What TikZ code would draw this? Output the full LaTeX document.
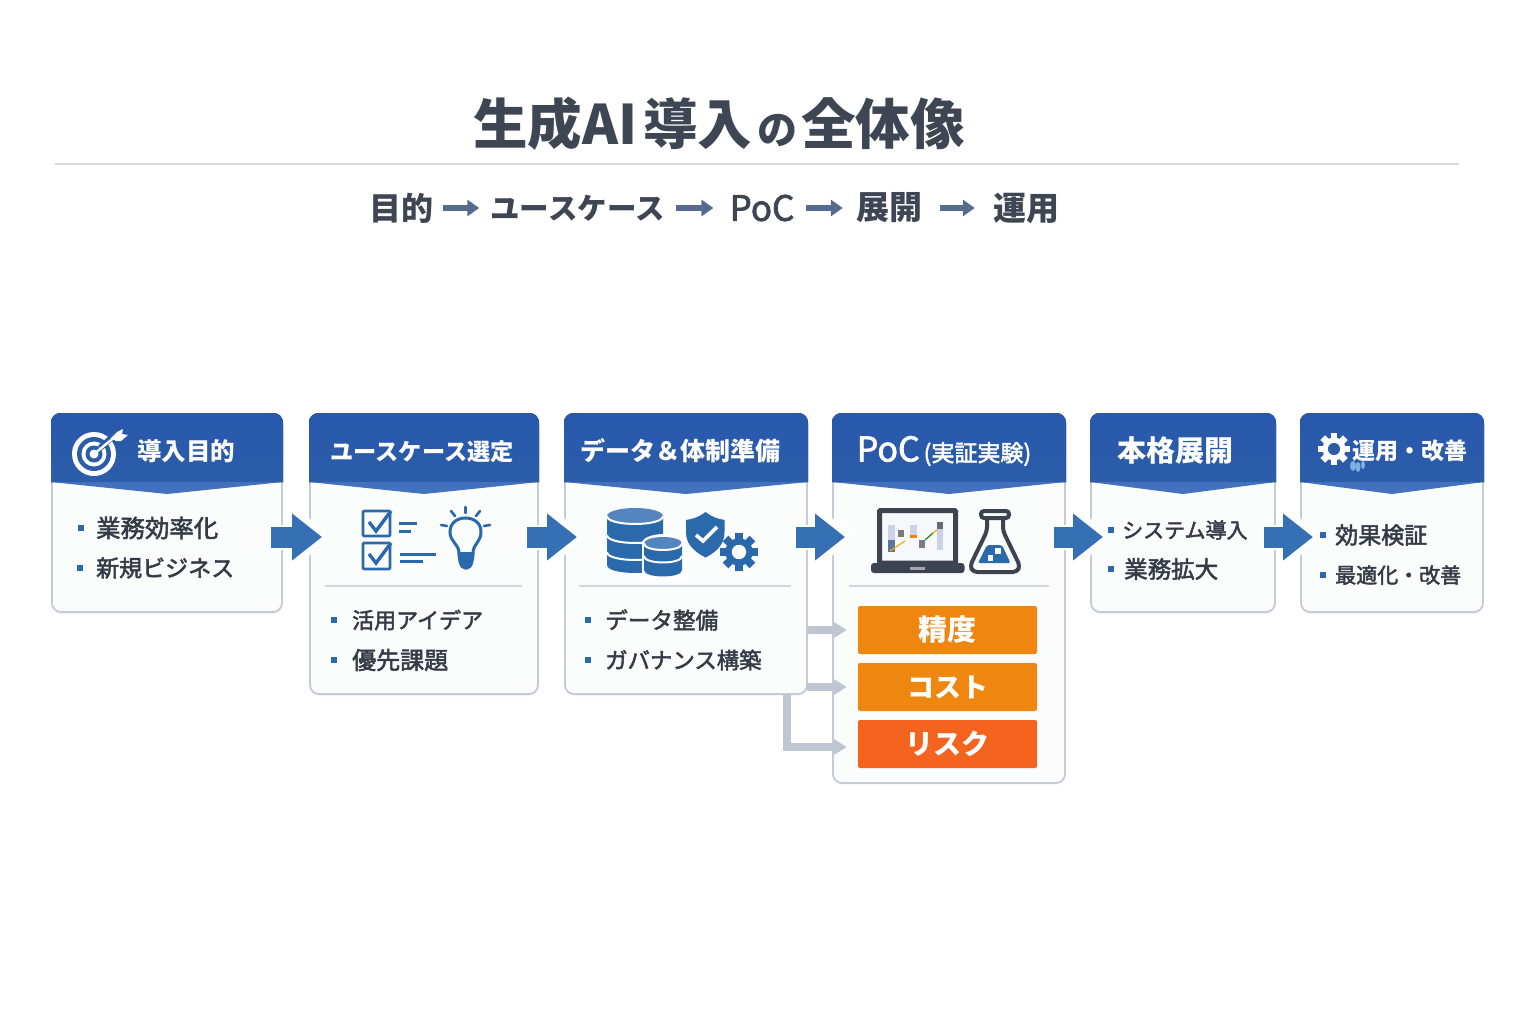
\documentclass[tikz,border=0pt]{standalone}
\usepackage{fontspec}
\setmainfont{Noto Sans CJK JP}
\newfontfamily\jpmed[FakeBold=2.2]{Noto Sans CJK JP}
\usepackage{tikz}
\usetikzlibrary{arrows.meta}
\usetikzlibrary{shadows}

\definecolor{inkdark}{HTML}{3F4653}
\definecolor{inkbody}{HTML}{353B46}
\definecolor{headblue}{HTML}{2B5DA8}
\definecolor{headlight}{HTML}{4272BD}
\definecolor{flowblue}{HTML}{3670B4}
\definecolor{iconblue}{HTML}{2A69AC}
\definecolor{cardedge}{HTML}{C5CBD6}
\definecolor{cardfill}{HTML}{FBFCFC}
\definecolor{feedgrey}{HTML}{BFC6D2}
\definecolor{laptopdark}{HTML}{3D4350}
\definecolor{subblue}{HTML}{566B8F}
\definecolor{metricorange}{HTML}{EF860F}
\definecolor{metricred}{HTML}{F5641F}
\definecolor{screenpale}{HTML}{F7F8FB}
\definecolor{barpale}{HTML}{C9D3E5}
\definecolor{barmid}{HTML}{5A7796}
\definecolor{petal}{HTML}{7FAEE0}

\newcommand{\fs}[1]{\fontsize{#1}{#1}\selectfont}

\tikzset{
  cardbody/.style = {draw = cardedge, line width = 1.8pt, fill = cardfill, rounded corners = 9pt, inner sep = 0, outer sep = 0, drop shadow = {opacity = .08, shadow xshift = 0pt, shadow yshift = -2pt}},
  headfill/.style = {top color = headblue!95!blue, bottom color = headblue},
  headtip/.style = {fill = headlight},
  headtext/.style = {text = white, inner sep = 0},
  itemdot/.style = {fill = iconblue, minimum size = 5.5pt, inner sep = 0, outer sep = 0},
  itemtext/.style = {text = inkbody, anchor = west, inner sep = 0},
  rule/.style = {draw = cardedge!80, line width = 1.1pt},
  metric/.style = {text = white, font = \bfseries, minimum width = 179pt, minimum height = 48pt, rounded corners = 2pt, inner sep = 0},
  subtext/.style = {text = inkdark, font = \bfseries\fs{32}, inner sep = 0},
  subarrow/.style = {draw = subblue, line width = 5.5pt, -{Triangle[length = 12pt, width = 16pt]}},
  blockarrow/.style = {draw = flowblue, line width = 21pt, -{Triangle[length = 30pt, width = 45pt]}, shorten <= -11pt, shorten >= -12pt},
  blockhalo/.style = {draw = white, line width = 25pt, -{Triangle[length = 32pt, width = 62pt]}, shorten <= -11pt, shorten >= -18pt},
  feedline/.style = {draw = feedgrey, line width = 7.5pt, -{Triangle[length = 13pt, width = 15pt]}, shorten >= 11pt},
  iconline/.style = {draw = iconblue, line width = 2.6pt}
}

% card frame and header, corners in picture pixels
\newcommand{\stagecard}[4]{
  \node[cardbody, minimum width = {(#3-#2)*1pt}, minimum height = {(#4-414)*1pt}] (#1) at ({(#2+#3)/2}, {(414+#4)/2}) {};
  \fill[headfill] ({#2-1}, 482) -- ({#2-1}, 423) .. controls ({#2-1}, 417) and ({#2+3}, 413) .. ({#2+9}, 413) -- ({#3-9}, 413) .. controls ({#3-3}, 413) and ({#3+1}, 417) .. ({#3+1}, 423) -- ({#3+1}, 482) -- cycle;
  \fill[headtip] ({#2-1}, 482) -- ({(#2+#3)/2}, 494) -- ({#3+1}, 482) -- cycle;
}
\newcommand{\listitem}[5]{
  \node[itemdot] (#1dot) at (#2) {};
  \node[itemtext, font = \jpmed\fs{#4}] (#1) at (#3) {#5};
}
\newcommand{\flowarrow}[2]{
  \draw[blockhalo] (#1.east |- flowline) -- (#2.west |- flowline);
  \draw[blockarrow] (#1.east |- flowline) -- (#2.west |- flowline);
}
\newcommand{\gearicon}[5]{
  \fill[#4] (#1, #2) circle ({#3*.72});
  \foreach \a in {0, 45, ..., 315}
    \draw[#4, line width = {#3*.42*1pt}] ([shift = {(\a:#3*.6)}] #1, #2) -- ([shift = {(\a:#3)}] #1, #2);
  \fill[#5] (#1, #2) circle ({#3*.38});
}
\newcommand{\dbcylinder}[6]{
  \fill[iconblue] ({#1-#3}, #2) -- ({#1-#3}, #5) .. controls ({#1-#3}, {#5+1.33*#4}) and ({#1+#3}, {#5+1.33*#4}) .. ({#1+#3}, #5) -- ({#1+#3}, #2) -- cycle;
  \fill[flowblue!85!white] (#1, #2) ellipse ({#3} and {#4});
  \foreach \y in {#6}
    \draw[white, line width = 2pt] ({#1-#3}, \y) .. controls ({#1-#3}, {\y+1.33*#4}) and ({#1+#3}, {\y+1.33*#4}) .. ({#1+#3}, \y);
}

\begin{document}
\begin{tikzpicture}[x = 1pt, y = -1pt]
 \useasboundingbox (0, 0) rectangle (1536, 1024);
 \fill[white] (0, 0) rectangle (1536, 1024);

 % title block
 \node[text = inkdark, font = \bfseries\fs{54.5}, inner sep = 0] (title) at (719, 124) {生成AI\hspace{6pt}導入\hspace{5pt}{\fs{40}の}\hspace{4pt}全体像};
 \coordinate (ruleleft) at (55, 164);
 \coordinate (ruleright) at (1459, 164);
 \draw[draw = cardedge!70, line width = 2.4pt] (ruleleft) -- (ruleright);
 \node[subtext] (subgoal) at (401, 208) {目的};
 \node[subtext, font = \bfseries\fs{29.5}] (subcase) at (577.5, 208) {ユースケース};
 \node[subtext, font = \jpmed\fs{35}] (subpoc) at (762, 208) {PoC};
 \node[subtext, font = \bfseries\fs{33}] (subroll) at (889, 208) {展開};
 \node[subtext, font = \bfseries\fs{33}] (subops) at (1026, 208) {運用};
 \draw[subarrow, shorten <= 10pt, shorten >= 11pt] (subgoal) -- (subcase);
 \draw[subarrow, shorten <= 11pt, shorten >= 16pt] (subcase) -- (subpoc);
 \draw[subarrow, shorten <= 11pt, shorten >= 13pt] (subpoc) -- (subroll);
 \draw[subarrow, shorten <= 18pt, shorten >= 18pt] (subroll) -- (subops);

 % cards
 \stagecard{goal}{52}{282}{612}
 \stagecard{usecase}{310}{538}{694}
 \stagecard{data}{565}{807}{694}
 \stagecard{poc}{833}{1065}{783}
 \stagecard{rollout}{1091}{1275}{612}
 \stagecard{ops}{1301}{1483}{612}

 \node[headtext, font = \bfseries\fs{24.5}] (goalhead) at (186, 451) {導入目的};
 \node[headtext, font = \bfseries\fs{23.2}] (usecasehead) at (422, 452) {ユースケース選定};
 \node[headtext, font = \bfseries\fs{25}] (datahead) at (680, 451) {データ＆体制準備};
 \node[headtext, font = \jpmed] (pochead) at (944, 451) {{\fs{34}PoC}\hspace{4pt}{\fs{23}(実証実験)}};
 \node[headtext, font = \bfseries\fs{29}] (rollouthead) at (1175, 451) {本格展開};
 \node[headtext, font = \bfseries\fs{23}] (opshead) at (1410, 451) {運用・改善};

 % list texts
 \listitem{goala}{81, 528}{96, 528}{24.4}{業務効率化}
 \listitem{goalb}{80, 568}{96, 568}{23}{新規ビジネス}
 \listitem{casea}{334, 620}{352, 620}{22}{活用アイデア}
 \listitem{caseb}{334, 660}{352, 660}{24}{優先課題}
 \listitem{dataa}{588, 620}{605, 620}{22.6}{データ整備}
 \listitem{datab}{588, 660}{605, 660}{22.4}{ガバナンス構築}
 \listitem{rolla}{1111, 530}{1122, 530}{21}{システム導入}
 \listitem{rollb}{1111, 569}{1124, 569}{23.5}{業務拡大}
 \listitem{opsa}{1323, 535}{1335, 535}{23}{効果検証}
 \listitem{opsb}{1323, 575}{1335, 575}{21}{最適化・改善}

 % dividers
 \draw[rule] (325, 586) -- (522, 586);
 \draw[rule] (579, 586) -- (791, 586);
 \draw[rule] (849, 586) -- (1049, 586);

 % metric boxes
 \node[metric, fill = metricorange] (accuracy) at (947.5, 630) {\fs{29}精度};
 \node[metric, fill = metricorange] (cost) at (947.5, 687) {\fs{27}コスト};
 \node[metric, fill = metricred] (risk) at (947.5, 744) {\fs{28}リスク};

 % grey feeds from data card
 \coordinate (feedx) at (787, 0);
 \draw[feedline] (data.east |- accuracy) -- (accuracy);
 \draw[feedline] (data.east |- cost) -- (cost);
 \draw[feedline] (data.south -| feedx) |- ([yshift = -3pt] risk.west);

 % stage arrows
 \coordinate (flowline) at (0, 537);
 \flowarrow{goal}{usecase}
 \flowarrow{usecase}{data}
 \flowarrow{data}{poc}
 \flowarrow{poc}{rollout}
 \flowarrow{rollout}{ops}

 % target icon
 \fill[white] (94, 454) circle (22);
 \fill[headblue] (94, 454) circle (17);
 \fill[white] (94, 454) circle (12.5);
 \fill[headblue] (94, 454) circle (8.5);
 \fill[white] (94, 454) circle (4.5);
 \draw[headblue, line width = 6pt] (100, 448) -- (118, 432);
 \draw[white, line width = 2.4pt] (94, 454) -- (116, 436);
 \fill[white] (111, 438) -- (117, 432) -- (123, 429) -- (122, 434) -- (128, 435) -- (121, 441) -- (116, 441) -- cycle;

 % checklist and bulb
 \draw[iconline, rounded corners = 1pt] (363, 511) rectangle (390, 536);
 \draw[iconline, rounded corners = 1pt] (363, 543) rectangle (390, 569);
 \draw[iconline, line width = 3.4pt] (369, 522) -- (376, 531) -- (391, 511);
 \draw[iconline, line width = 3.4pt] (369, 554) -- (376, 563) -- (391, 543);
 \draw[iconline, line width = 3pt] (399, 523) -- (417, 523);
 \draw[iconline, line width = 3pt] (399, 531) -- (411, 531);
 \draw[iconline, line width = 3pt] (400, 554) -- (436, 554);
 \draw[iconline, line width = 3pt] (400, 561) -- (423, 561);
 \draw[iconline, line width = 3pt] (459, 553) .. controls (459, 544) and (450, 542) .. (450, 532) .. controls (450, 523) and (457, 518) .. (465.5, 518) .. controls (474, 518) and (481, 523) .. (481, 532) .. controls (481, 542) and (473, 544) .. (473, 553);
 \fill[iconblue, rounded corners = 2pt] (457, 552) -- (475, 552) -- (473, 565) -- (469, 569.5) -- (463, 569.5) -- (459, 565) -- cycle;
 \foreach \xa/\ya/\xb/\yb in {465.5/507/465.5/513, 451/511/455/516, 480/511/476/516, 441/525/447/526, 490/525/484/526}
   \draw[iconline, line cap = round] (\xa, \ya) -- (\xb, \yb);

 % databases, shield, gear
 \dbcylinder{635}{516}{28}{8}{565}{516, 535, 552}
 \fill[white] (664, 543) ellipse (22 and 9);
 \fill[white] (642, 543) rectangle (686, 580);
 \dbcylinder{663}{543.5}{19}{6.5}{570}{543.5, 556}
 \fill[iconblue] (705.5, 512) .. controls (712, 517) and (718, 519) .. (724.5, 520) -- (724.5, 532) .. controls (724.5, 545) and (716, 552) .. (705.5, 557.5) .. controls (695, 552) and (686, 545) .. (686, 532) -- (686, 520) .. controls (693, 519) and (699, 517) .. (705.5, 512) -- cycle;
 \draw[white, line width = 3.6pt] (696, 535) -- (703, 541) -- (717, 527);
 \gearicon{739}{552}{19}{iconblue}{white}

 % laptop with chart
 \draw[laptopdark, line width = 5pt, fill = screenpale, rounded corners = 1pt] (879.5, 510.5) rectangle (955.5, 563);
 \fill[laptopdark, rounded corners = 3pt] (871, 563) rectangle (964.5, 573);
 \fill[gray!70] (910, 567) rectangle (925, 570);
 \fill[barpale] (888, 525) rectangle (895, 552);
 \fill[barmid] (888, 540) rectangle (895, 552);
 \fill[laptopdark!70] (898, 530) rectangle (904, 537);
 \fill[barpale] (910, 525) rectangle (917, 538);
 \fill[orange] (910, 535) rectangle (917, 538);
 \fill[laptopdark!70] (919, 540) rectangle (925, 548);
 \fill[barpale] (937, 529) rectangle (943, 550);
 \fill[laptopdark!80] (937, 522) rectangle (943, 529);
 \draw[orange!70!yellow, line width = 1.2pt] (890, 551) -- (905, 541);
 \draw[green!60!black, line width = 1.2pt] (925, 540) -- (933, 533);
 \draw[orange!70!yellow, line width = 1.2pt] (933, 533) -- (937, 530);

 % flask
 \fill[iconblue, rounded corners = 2pt] (987, 545) -- (1002, 545) -- (1010.5, 563) -- (978, 563) -- cycle;
 \draw[laptopdark, line width = 4pt, line join = round, rounded corners = 4pt] (987, 518) -- (987, 531) -- (970, 566) -- (973, 572) -- (1017, 572) -- (1020, 566) -- (1003, 531) -- (1003, 518);
 \draw[laptopdark, line width = 4pt, rounded corners = 3pt] (981, 511) rectangle (1009, 518);
 \fill[screenpale] (987.5, 555) rectangle (993, 561);
 \fill[screenpale] (995, 548) rectangle (1001, 554);

 % ops gear
 \gearicon{1334}{449}{16}{white}{headblue}
 \fill[petal] (1353, 466) ellipse (3 and 5);
 \fill[petal] (1358, 467) ellipse (2.5 and 5);
 \fill[petal] (1363, 465) ellipse (2 and 4);
\end{tikzpicture}
\end{document}
